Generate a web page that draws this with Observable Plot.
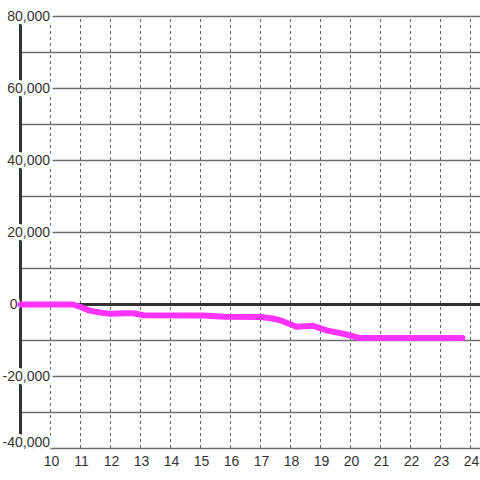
<!DOCTYPE html>
<html>
<head>
<meta charset="utf-8">
<script src="https://cdn.jsdelivr.net/npm/d3@7"></script>
<script src="https://cdn.jsdelivr.net/npm/@observablehq/plot@0.6"></script>
<style>
  html, body { margin: 0; padding: 0; background: #fff; }
  #chart svg { display: block; }
</style>
</head>
<body>
<div id="chart"></div>
<script>
// Series: time (hours) and value
const hours  = [9, 10.75, 11.0, 11.3, 11.7, 12.0, 12.5, 12.75, 13.1, 15.1, 15.8, 17.0, 17.4, 17.7, 18.2, 18.75, 19.2, 19.8, 20.3, 23.73];
const values = [0, 0, -700, -1700, -2300, -2600, -2450, -2450, -3000, -3050, -3400, -3500, -3900, -4500, -6200, -5900, -7200, -8200, -9300, -9300];

// Axes
const xTicks = [10, 11, 12, 13, 14, 15, 16, 17, 18, 19, 20, 21, 22, 23, 24];
const yGrid  = [-40000, -30000, -20000, -10000, 0, 10000, 20000, 30000, 40000, 50000, 60000, 70000, 80000];
const yLabels = [-40000, -20000, 0, 20000, 40000, 60000, 80000];

const data = hours.map((h, i) => ({h, v: values[i]}));
const fmt = d => d3.format(",")(d).replace("\u2212", "-");
const font = "Liberation Sans, Arial, sans-serif";
const xMin = 9, xMax = 24.333, yMin = -40000, yMax = 80000;

const labelStyle = {fill: "#333", stroke: "white", strokeWidth: 6, fontSize: 14, textAnchor: "end"};

const chart = Plot.plot({
  width: 480,
  height: 480,
  marginLeft: 20,
  marginRight: 0,
  marginTop: 16,
  marginBottom: 32,
  style: {fontFamily: font, fontSize: "14px", background: "#fff"},
  x: {domain: [xMin, xMax], axis: null},
  y: {domain: [yMin, yMax], axis: null},
  marks: [
    Plot.ruleY(yGrid, {stroke: "#6e6e6e", strokeWidth: 1.5}),
    Plot.ruleX(xTicks, {y1: yMin, y2: yMax, stroke: "#666", strokeWidth: 1, strokeDasharray: "3,3"}),
    Plot.ruleX([xMin], {y1: yMin, y2: yMax, stroke: "#333", strokeWidth: 3}),
    Plot.ruleY([0], {stroke: "#333", strokeWidth: 3}),
    Plot.text(yLabels.filter(d => d !== yMin && d !== 0), {
      x: xMin, y: d => d, text: d => fmt(d), dx: 29.5, ...labelStyle
    }),
    Plot.text(yLabels.filter(d => d === 0), {
      x: xMin, y: d => d, text: d => fmt(d), dx: -3, ...labelStyle
    }),
    Plot.text(yLabels.filter(d => d === yMin), {
      x: xMin, y: d => d, text: d => fmt(d), dx: 29.5, dy: -6, ...labelStyle
    }),
    Plot.text(xTicks, {
      x: d => d, y: yMin, text: d => String(d), dx: 1, dy: 13, lineAnchor: "middle",
      fill: "#333", fontSize: 14
    }),
    Plot.line(data, {x: "h", y: "v", stroke: "#ff33ff", strokeWidth: 6, strokeLinecap: "round", strokeLinejoin: "round"})
  ]
});
document.getElementById("chart").appendChild(chart);
</script>
</body>
</html>
